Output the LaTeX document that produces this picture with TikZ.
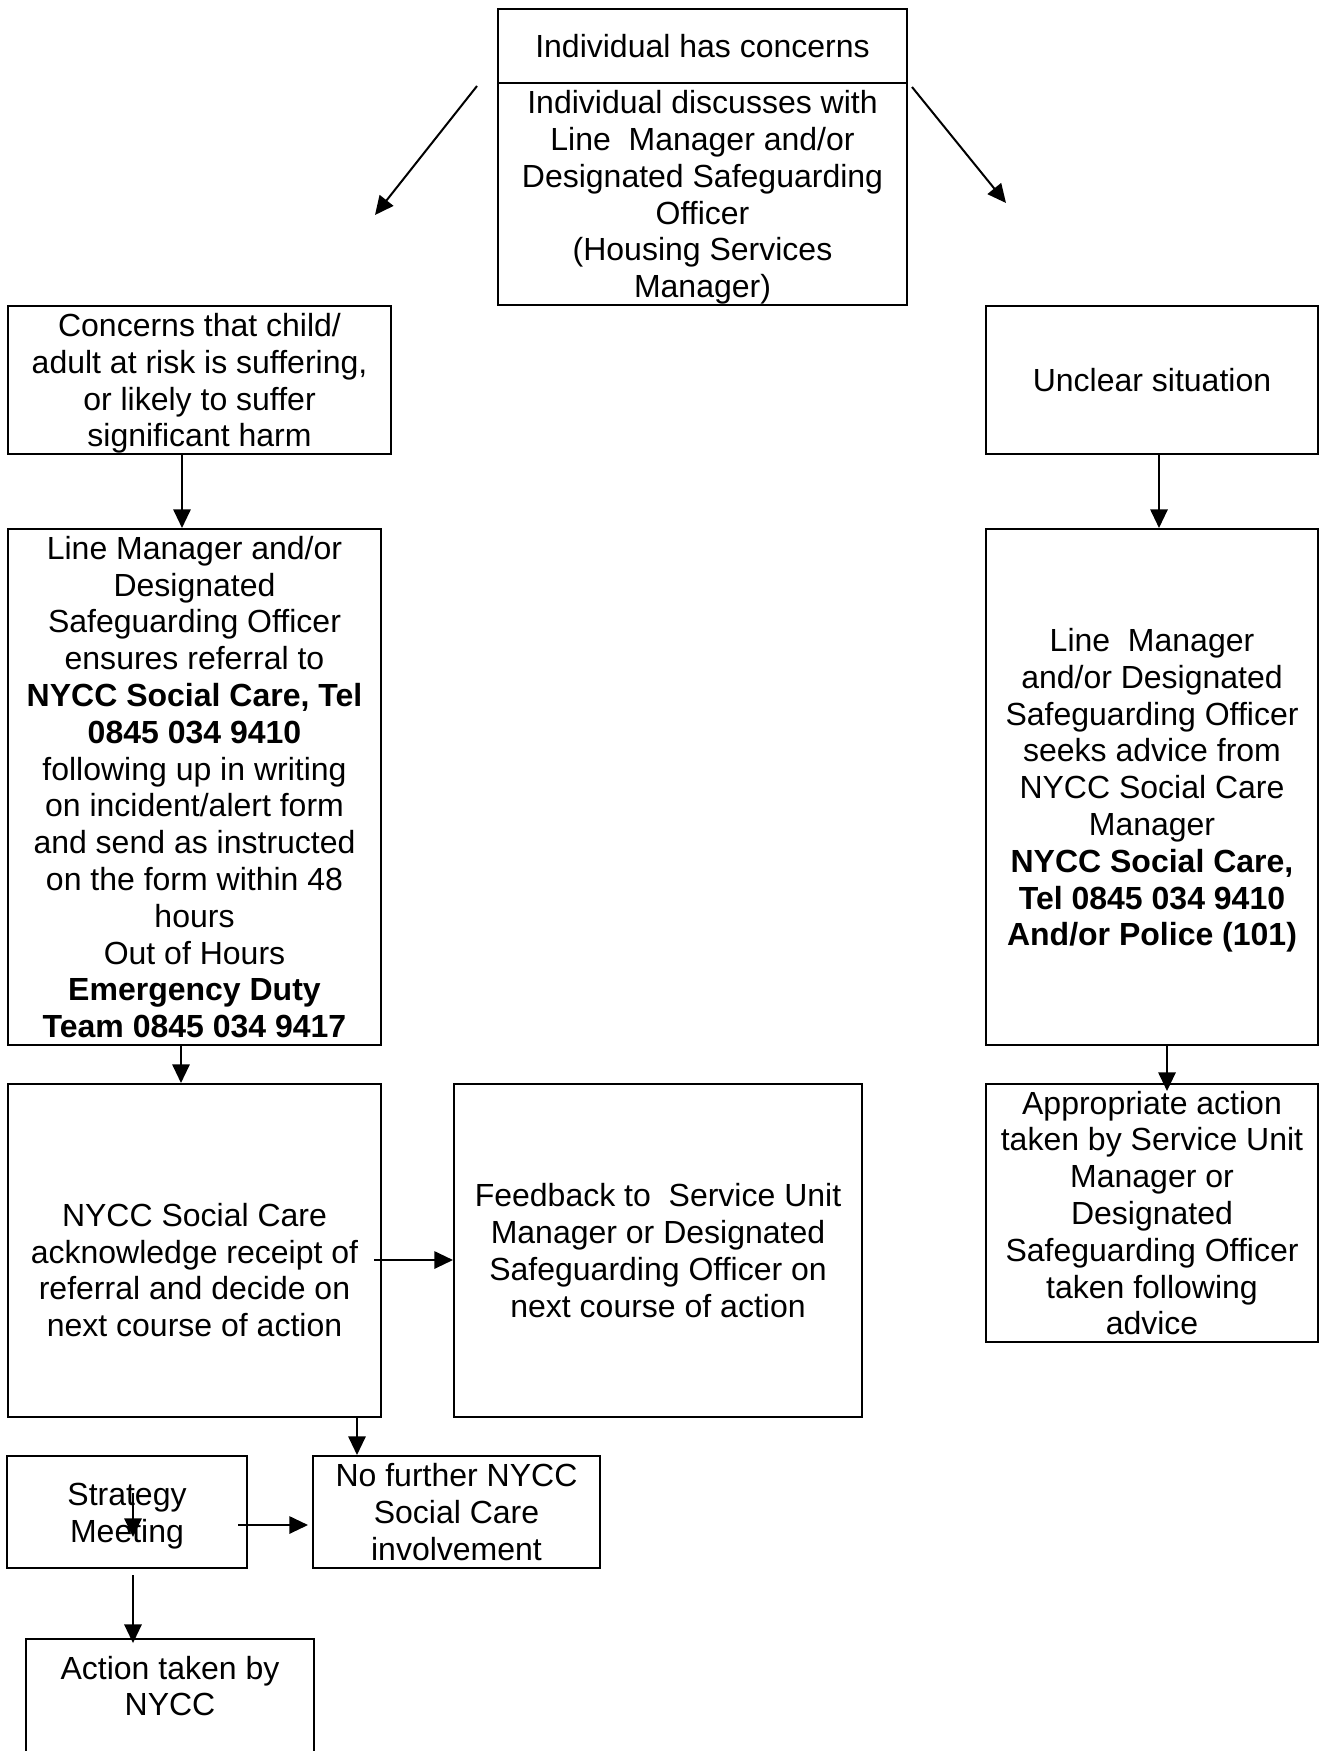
\documentclass[tikz,border=0pt]{standalone}
\usepackage{fontspec}
\setmainfont{Liberation Sans}
\usetikzlibrary{arrows.meta}
\newcommand{\linestrut}{\rule{0pt}{11.3pt}}

\tikzset{
  flowbox/.style 2 args={draw, align=center, inner sep=0pt,
    minimum width=#1*0.375pt, minimum height=#2*0.375pt,
    font=\fontsize{12pt}{13.8pt}\selectfont},
  boxtext/.style={align=center, inner sep=0pt, font=\fontsize{12pt}{13.8pt}\selectfont},
  flowarrow/.style={-{Triangle[width=6.5pt,length=7pt]}}
}

\begin{document}
\begin{tikzpicture}[x=0.375pt, y=-0.375pt, line width=0.75pt]
\useasboundingbox (0,0) rectangle (1321,1751);
%%%%% Boxes %%%%%
\node[flowbox={409}{74}] (hdr) at (702.5,46) {Individual has concerns};
\node[flowbox={409}{222}] (discuss) at (702.5,194) {\linestrut Individual discusses with\\Line\ \ Manager and/or\\Designated Safeguarding\\Officer\\(Housing Services\\Manager)};
\node[flowbox={383}{148}] (concerns) at (199.5,380) {\linestrut Concerns that child/\\adult at risk is suffering,\\or likely to suffer\\significant harm};
\node[flowbox={332}{148}] (unclear) at (1152,380) {Unclear situation};
\node[flowbox={373}{516}] (referral) at (194.5,787) {Line Manager and/or\\Designated\\Safeguarding Officer\\ensures referral to\\\textbf{NYCC Social Care, Tel}\\\textbf{0845 034 9410}\\following up in writing\\on incident/alert form\\and send as instructed\\on the form within 48\\hours\\Out of Hours\\\textbf{Emergency Duty}\\\textbf{Team 0845 034 9417}};
\node[flowbox={332}{516}] (advice) at (1152,787) {\linestrut Line\ \ Manager\\and/or Designated\\Safeguarding Officer\\seeks advice from\\NYCC Social Care\\Manager\\\textbf{NYCC Social Care,}\\\textbf{Tel 0845 034 9410}\\\textbf{And/or Police (101)}};
\node[flowbox={332}{258}] (appropriate) at (1152,1213) {Appropriate action\\taken by Service Unit\\Manager or\\Designated\\Safeguarding Officer\\taken following\\advice};
\node[flowbox={373}{333}] (ack) at (194.5,1250.5) {};
\node[boxtext] (acktext) at (194.5,1270) {NYCC Social Care\\acknowledge receipt of\\referral and decide on\\next course of action};
\node[flowbox={408}{333}] (feedback) at (658,1250.5) {Feedback to\ \ Service Unit\\Manager or Designated\\Safeguarding Officer on\\next course of action};
\node[flowbox={240}{112}] (strategy) at (127,1512) {\linestrut Strategy\\Meeting};
\node[flowbox={287}{112}] (nofurther) at (456.5,1512) {No further NYCC\\Social Care\\involvement};
\node[flowbox={288}{150}] (nycc) at (170,1714) {};
\node[boxtext] (nycctext) at (170,1686) {Action taken by\\NYCC};

%%%%% Arrows %%%%%
\coordinate (ltail) at (477,86);
\coordinate (lhead) at (375,215);
\coordinate (rtail) at (912,87);
\coordinate (rhead) at (1006,203);
\draw[flowarrow] (ltail) -- (lhead);
\draw[flowarrow] (rtail) -- (rhead);
\foreach \from/\to/\col in {concerns/referral/182, unclear/advice/1159, referral/ack/181, ack/nofurther/357}{
\draw[flowarrow] (\from.south -| \col,0) -- (\to.north -| \col,0);
}
\draw[flowarrow, shorten >=-3pt] (advice.south -| 1167,0) -- (appropriate.north -| 1167,0);
\draw[flowarrow, shorten <=2.25pt, shorten >=-1.9pt] (strategy.south -| 133,0) -- (nycc.north -| 133,0);
\coordinate (acktail) at (374,1260);
\draw[flowarrow] (acktail) -- (acktail -| feedback.west);
\coordinate (strattail) at (238,1525);
\draw[flowarrow, shorten >=1.5pt] (strattail) -- (strattail -| nofurther.west);
\coordinate (straytail) at (133,1493);
\coordinate (strayhead) at (133,1537);
\draw[flowarrow] (straytail) -- (strayhead);
\end{tikzpicture}
\end{document}
